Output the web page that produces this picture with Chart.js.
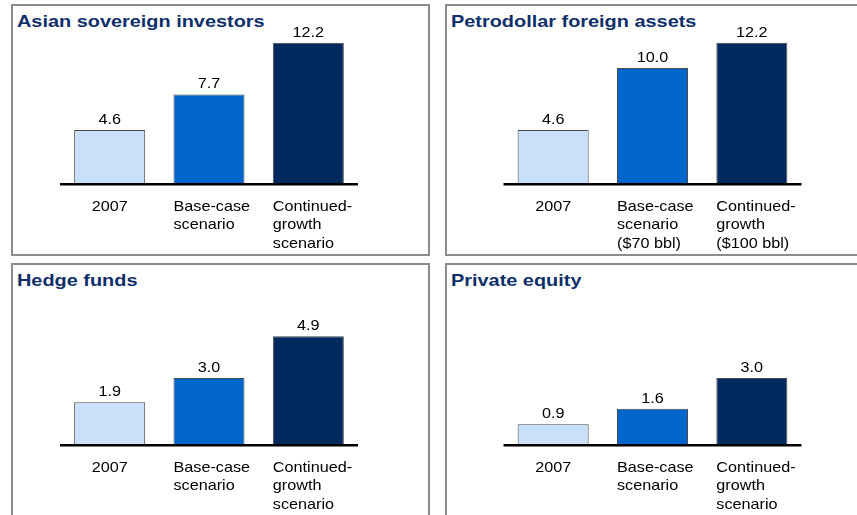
<!DOCTYPE html>
<html>
<head>
<meta charset="utf-8">
<script src="https://cdn.jsdelivr.net/npm/chart.js@4"></script>
<style>
  html, body { margin:0; padding:0; width:857px; height:515px; overflow:hidden; background:#fff; }
  .panel { position:absolute; box-sizing:border-box; border:2px solid #8c8c8c; background:transparent; }
  .title { position:absolute; font:bold 17px "Liberation Sans", Arial, sans-serif; line-height:17px; color:#0f2f6b; white-space:nowrap; transform:scaleX(1.17); transform-origin:0 0; }
  canvas { position:absolute; left:0; top:0; }
</style>
</head>
<body>
<div class="panel" style="left:11px;top:4px;width:419px;height:252px;"></div>
<div class="panel" style="left:445px;top:4px;width:416px;height:252px;"></div>
<div class="panel" style="left:11px;top:263px;width:419px;height:262px;"></div>
<div class="panel" style="left:445px;top:263px;width:416px;height:262px;"></div>
<div class="title" style="left:17px;top:13px;">Asian sovereign investors</div>
<div class="title" style="left:451px;top:13px;">Petrodollar foreign assets</div>
<div class="title" style="left:17px;top:272px;">Hedge funds</div>
<div class="title" style="left:451px;top:272px;">Private equity</div>
<canvas id="c1" width="857" height="515"></canvas>
<canvas id="c2" width="857" height="515"></canvas>
<canvas id="c3" width="857" height="515"></canvas>
<canvas id="c4" width="857" height="515"></canvas>
<script>
// ---- data ----
const categories = ['2007', ['Base-case', 'scenario'], ['Continued-', 'growth', 'scenario']];
const petroCategories = ['2007', ['Base-case', 'scenario', '($70 bbl)'], ['Continued-', 'growth', '($100 bbl)']];
const asianValues = [4.6, 7.7, 12.2];
const petroValues = [4.6, 10.0, 12.2];
const hedgeValues = [1.9, 3.0, 4.9];
const privateEquityValues = [0.9, 1.6, 3.0];
const barColors = ['#c8e0f9', '#0066cc', '#002a5e'];

const SX = 1.08;
const FONT = '15px "Liberation Sans", Arial, sans-serif';

function drawText(ctx, t, x, y, align) {
  ctx.save();
  ctx.translate(x, y);
  ctx.scale(SX, 1);
  ctx.textAlign = align;
  ctx.textBaseline = 'alphabetic';
  ctx.fillText(t, 0, 0);
  ctx.restore();
}

const labelPlugin = {
  id: 'barLabels',
  afterDatasetsDraw(chart) {
    const ctx = chart.ctx;
    const area = chart.chartArea;
    const y0 = chart.scales.y.getPixelForValue(0);
    const meta = chart.getDatasetMeta(0);
    ctx.save();
    ctx.fillStyle = '#000';
    ctx.fillRect(area.left, y0, area.right - area.left, 2.5);
    ctx.font = FONT;
    ctx.fillStyle = '#000';
    meta.data.forEach((bar, i) => {
      const p = bar.getProps(['x', 'y', 'width'], true);
      const v = chart.data.datasets[0].data[i];
      drawText(ctx, v.toFixed(1), p.x, p.y - 6, 'center');
      const lab = chart.data.labels[i];
      const lines = Array.isArray(lab) ? lab : [lab];
      const w = Math.max(...lines.map(l => ctx.measureText(l).width)) * SX;
      const left = Math.max(p.x - p.width / 2, p.x - w / 2);
      lines.forEach((l, j) => drawText(ctx, l, left, y0 + 28 + j * 18.4, 'left'));
    });
    ctx.restore();
  }
};

function makeChart(id, labels, values, area, yMax) {
  new Chart(document.getElementById(id), {
    type: 'bar',
    data: {
      labels: labels,
      datasets: [{
        data: values,
        backgroundColor: barColors,
        borderColor: '#4a4a4a',
        borderWidth: 1,
        barPercentage: 0.715,
        categoryPercentage: 1
      }]
    },
    options: {
      responsive: false,
      animation: false,
      events: [],
      layout: { padding: { left: area.left, right: 857 - area.right, top: area.top, bottom: 515 - area.bottom } },
      plugins: { legend: { display: false }, tooltip: { enabled: false }, title: { display: false } },
      scales: {
        x: { display: false, offset: true },
        y: { display: false, min: 0, max: yMax }
      }
    },
    plugins: [labelPlugin]
  });
}

makeChart('c1', categories, asianValues, { left: 60, right: 358, top: 22, bottom: 183 }, 14);
makeChart('c2', petroCategories, petroValues, { left: 503.5, right: 801.5, top: 22, bottom: 183 }, 14);
makeChart('c3', categories, hedgeValues, { left: 60, right: 358, top: 312, bottom: 444 }, 6);
makeChart('c4', categories, privateEquityValues, { left: 503.5, right: 801.5, top: 312, bottom: 444 }, 6);
</script>
</body>
</html>
